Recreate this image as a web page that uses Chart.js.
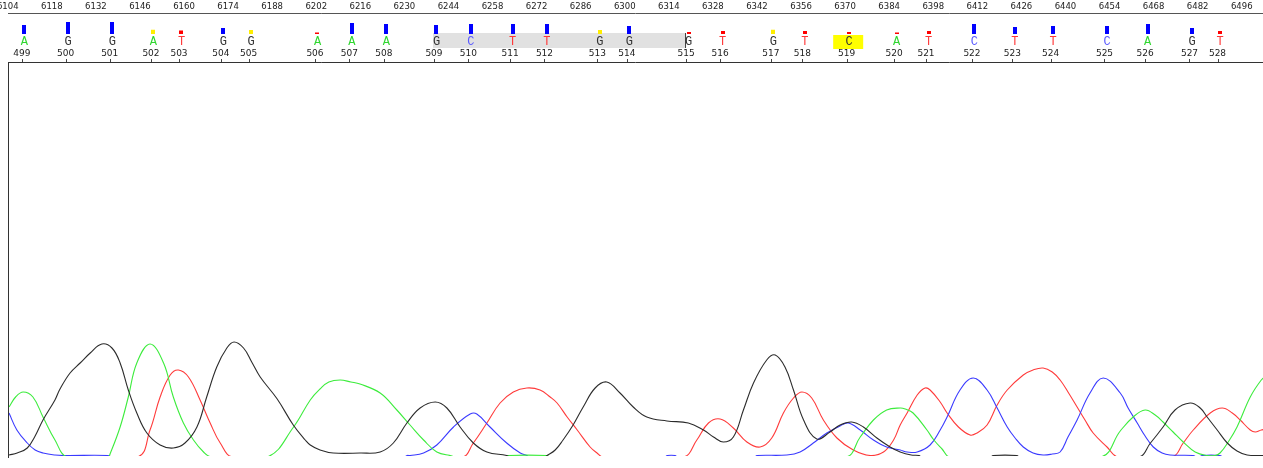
<!DOCTYPE html>
<html>
<head>
<meta charset="utf-8">
<script src="https://cdn.jsdelivr.net/npm/chart.js@4.4.1/dist/chart.umd.min.js"></script>
<style>
  body { margin: 0; background: #fff; }
  #wrap { width: 1263px; height: 468px; }
</style>
</head>
<body>
<div id="wrap"><canvas id="trace"></canvas></div>
<script>
'use strict';

// scan ruler on top
var scanTicks = [6104, 6118, 6132, 6146, 6160, 6174, 6188, 6202, 6216, 6230, 6244, 6258, 6272, 6286,
    6300, 6314, 6328, 6342, 6356, 6370, 6384, 6398, 6412, 6426, 6440, 6454, 6468, 6482, 6496];

// base calls
var baseNumbers = [499, 500, 501, 502, 503, 504, 505, 506, 507, 508, 509, 510, 511, 512, 513,
    514, 515, 516, 517, 518, 519, 520, 521, 522, 523, 524, 525, 526, 527, 528];
var baseCalls = ['A', 'G', 'G', 'A', 'T', 'G', 'G', 'A', 'A', 'A', 'G', 'C', 'T', 'T', 'G',
    'G', 'G', 'T', 'G', 'T', 'C', 'A', 'T', 'C', 'T', 'T', 'C', 'A', 'G', 'T'];
var basePositions = [6108.5, 6122.4, 6136.4, 6149.5, 6158.4, 6171.7, 6180.5, 6201.6, 6212.5, 6223.5,
    6239.4, 6250.3, 6263.6, 6274.5, 6291.3, 6300.7, 6319.5, 6330.3, 6346.4, 6356.4,
    6370.5, 6385.6, 6395.7, 6410.3, 6423.1, 6435.3, 6452.4, 6465.3, 6479.4, 6488.3];
var qualities = [36, 48, 48, 17, 14, 24, 16, 6, 44, 40, 36, 40, 40, 40, 16,
    32, 8, 12, 17, 12, 8, 6, 12, 40, 28, 32, 32, 40, 24, 12];
var selectedFrom = 509, selectedTo = 515, currentBase = 519;

// trace intensities [scan, signal]
var traceA = [[6104.4,50],[6106.5,60],[6108.9,65],[6112,60],[6115.2,40],[6119,17],[6122.9,0],[6135.9,0],
    [6136.5,3],[6139.7,30],[6142.3,60],[6145,94],[6149.2,113],[6153.5,94],[6156.6,60],[6159.8,34],[6163,17],
    [6166.2,5],[6168.8,0],[6186.4,0],[6194.8,30],[6200.1,57],[6203.2,68],[6206,75],[6209.6,77],[6213,75],
    [6215.9,73],[6222.3,64],[6227.6,47],[6231.8,32],[6236.1,17],[6240.3,5],[6245.1,1],[6246,0],[6262,0],
    [6263,1.5],[6275.3,1.5],[6276.2,0],[6370,0],[6374.8,20],[6379,37],[6383.2,47],[6387.5,49],[6389.1,48],
    [6391.6,44],[6396,27],[6398.2,17],[6400.8,8],[6403.3,0],[6451,0],[6457.4,26],[6461.5,40],[6465.3,47],
    [6468.5,42],[6471,35],[6474.2,25],[6477.4,15],[6481.2,5],[6485,1.5],[6487.5,1.5],[6489.1,4],[6491.7,15],
    [6494.5,30],[6498.7,60],[6502.2,77],[6504,82]];
var traceC = [[6104.4,44],[6106.9,27],[6110.2,14],[6112.7,7],[6115.2,4],[6119,2],[6122,1.5],[6135.9,1.5],
    [6136.8,0],[6230,0],[6230.9,1.5],[6231.8,1.5],[6236.1,4],[6240.3,12],[6245.6,30],[6250.9,43],[6253,43],
    [6257.2,30],[6262.5,14],[6266.8,4],[6268.9,1.5],[6269.6,0],[6312.7,0],[6313.5,1.5],[6316,1.5],
    [6316.8,0],[6341.2,0],[6342,1.5],[6351.5,2],[6355.7,5],[6359.9,14],[6364.2,24],[6368.4,31],[6371,34],
    [6374.8,27],[6379,17],[6383.2,10],[6387.5,7],[6389.7,5],[6392.9,5],[6397,12],
    [6400.2,27],[6402.4,40],[6406.5,67],[6410.7,79],[6415.1,67],[6418.3,49],[6421.5,30],[6424,19],[6426.6,10],
    [6429.7,4],[6432.9,2],[6435.8,3],[6438.3,5],[6440.8,20],[6443.7,37],[6447.8,64],[6452,79],[6457.4,64],
    [6459.9,49],[6462.8,34],[6465.3,21],[6467.9,10],[6470.7,4],[6473.2,2],[6480.6,1.5],[6481.5,0],[6482.6,0],
    [6483.4,1.5],[6489.1,1.5],[6490,0],[6504,0]];
var traceG = [[6104.4,2],[6107,4],[6110.2,9],[6112.7,21],[6115.2,37],[6119,57],[6120.6,68],[6123.8,84],
    [6127,94],[6130.2,104],[6133.9,113],[6137.1,109],[6139.7,94],[6142.3,67],[6145,44],[6148.2,24],
    [6152.4,12],[6156.6,9],[6160.3,14],[6164.1,30],[6167.2,60],[6170.4,90],[6173.6,109],[6175.9,115],
    [6178.9,109],[6181.5,95],[6184.2,80],[6189.6,58],[6194.7,32],[6198.5,17],[6200.1,12],[6203.2,7],
    [6207.4,4],[6215.9,4],[6222.3,5],[6226.5,14],[6230.8,34],[6235,49],[6239.8,55],[6243.5,49],[6247.7,30],
    [6251.9,14],[6256.2,5],[6262.5,1.5],[6263.5,0],[6274.5,0],[6275.3,1.5],[6277.9,7],[6280.4,17],
    [6283.6,32],[6286.8,50],[6290.6,69],[6294.3,75],[6298.5,64],[6302.7,50],[6307,40],[6313.4,36],
    [6320.2,34],[6325,27],[6328.2,20],[6331.3,15],[6334.5,20],[6337.7,47],[6340.9,74],[6345.1,97],
    [6347.8,102],[6350.9,90],[6353.6,67],[6356.8,37],[6361,18],[6365.2,25],[6368.4,32],[6372.1,35],
    [6375.8,30],[6380.1,19],[6384.3,10],[6387.5,5],[6391,2],[6393.5,1.5],[6394.3,0],
    [6416.2,0],[6417,1.5],[6424.6,1.5],[6425.4,0],[6463.1,0],[6467,14],[6471,30],[6474.8,47],[6479.6,54],
    [6482.8,49],[6485,40],[6488.2,27],[6491.4,14],[6494.5,6],[6497.7,2],[6503,1.5]];
var traceT = [[6104.4,0],[6145,0],[6149.2,27],[6152.4,60],[6155.6,82],[6158.2,87],[6161.4,80],[6165.1,57],
    [6168.3,34],[6171.5,14],[6175.7,0],[6248.2,0],[6251.9,14],[6256.2,34],[6260.4,54],[6264.6,65],
    [6268.9,69],[6273.1,67],[6276.3,60],[6278.5,54],[6281.7,40],[6284.9,27],[6289,10],[6291.2,4],[6293.1,0],
    [6318.6,0],[6322.9,17],[6326.6,34],[6330.3,38],[6334.5,29],[6338.8,15],[6343,10],[6346.7,19],
    [6350.4,44],[6353.6,59],[6356.3,65],[6359.4,59],[6363.1,37],[6367.4,19],[6372.6,7],[6378,1.5],
    [6382.2,5],[6385.4,17],[6387.5,32],[6389.7,44],[6392.9,62],[6395.4,69],[6397,67],
    [6400.2,55],[6402.4,44],[6406,30],[6409.7,22],[6411.9,24],[6415.1,32],[6418.3,52],[6421.5,67],
    [6426.6,82],[6429.7,87],[6432.9,89],[6435.8,85],[6438.3,77],[6440.8,65],[6443.7,50],[6446.2,37],
    [6448.8,24],[6453.2,10],[6456.7,0],[6473.9,0],[6477.4,14],[6480.6,27],[6486,44],[6489.8,49],[6493,44],
    [6495.5,37],[6498.7,27],[6500.3,25],[6502.2,27],[6504,28]];

var letterColors = { A: '#2fd62f', C: '#5a5aff', G: '#333333', T: '#ff3535' };

function qualityColor(q) {
    if (q >= 20) return '#0000ff';
    if (q >= 15) return '#ffee00';
    return '#ff0000';
}

function toPoints(arr) {
    return arr.map(function (p) { return { x: p[0], y: p[1] }; });
}

// header: scan ruler, quality bars, base letters, base numbers
var headerPlugin = {
    id: 'header',
    afterDraw: function (chart) {
        var ctx = chart.ctx, xs = chart.scales.x, area = chart.chartArea;
        var W = chart.width;
        ctx.save();

        ctx.fillStyle = '#222';
        ctx.font = '8.5px "DejaVu Sans"';
        ctx.textAlign = 'center';
        ctx.textBaseline = 'middle';
        scanTicks.forEach(function (s) {
            ctx.fillText(String(s), xs.getPixelForValue(s), 7);
        });
        ctx.strokeStyle = '#555';
        ctx.lineWidth = 1;
        ctx.beginPath();
        ctx.moveTo(8, 13.5); ctx.lineTo(W, 13.5);
        ctx.stroke();

        // selected range
        var iFrom = baseNumbers.indexOf(selectedFrom), iTo = baseNumbers.indexOf(selectedTo);
        var sx0 = xs.getPixelForValue(basePositions[iFrom]) - 1;
        var sx1 = xs.getPixelForValue(basePositions[iTo]);
        ctx.fillStyle = '#e1e1e1';
        ctx.fillRect(sx0, 33, sx1 - sx0, 15);
        ctx.strokeStyle = '#444';
        ctx.beginPath();
        ctx.moveTo(Math.round(sx1) - 0.5, 33); ctx.lineTo(Math.round(sx1) - 0.5, 48);
        ctx.stroke();

        // current base
        var iCur = baseNumbers.indexOf(currentBase);
        var cx = xs.getPixelForValue(basePositions[iCur]) + 1.5;
        ctx.fillStyle = '#ffff00';
        ctx.fillRect(cx - 15, 35, 30, 14);

        baseNumbers.forEach(function (n, i) {
            var px = xs.getPixelForValue(basePositions[i]);
            var q = qualities[i];
            var h = Math.max(1.5, q / 4);
            ctx.fillStyle = qualityColor(q);
            ctx.fillRect(Math.round(px + 0.5), 34 - h, 4, h);

            ctx.font = '12px "Liberation Mono"';
            ctx.fillStyle = (n === currentBase) ? '#333' : letterColors[baseCalls[i]];
            ctx.fillText(baseCalls[i], px + 2.5, 41.5);

            ctx.font = '9px "DejaVu Sans"';
            ctx.fillStyle = '#222';
            ctx.fillText(String(n), px, 54);

            ctx.strokeStyle = '#444';
            ctx.beginPath();
            ctx.moveTo(Math.round(px) + 0.5, 59); ctx.lineTo(Math.round(px) + 0.5, 62);
            ctx.stroke();
        });

        ctx.strokeStyle = '#333';
        ctx.beginPath();
        ctx.moveTo(8, 62.5); ctx.lineTo(W, 62.5);
        ctx.moveTo(8.5, 62); ctx.lineTo(8.5, area.bottom + 1);
        ctx.stroke();
        ctx.restore();
    }
};

function traceSet(label, arr, color) {
    return {
        label: label,
        data: toPoints(arr),
        borderColor: color,
        borderWidth: 1.1,
        pointRadius: 0,
        fill: false,
        tension: 0.4,
        clip: { left: 0, top: 0, right: 0, bottom: -1 }
    };
}

var ctx = document.getElementById('trace').getContext('2d');
var chart = new Chart(ctx, {
    type: 'line',
    data: {
        datasets: [
            traceSet('G', traceG, '#2b2b2b'),
            traceSet('A', traceA, '#3cec3c'),
            traceSet('C', traceC, '#3a3aff'),
            traceSet('T', traceT, '#ff3a3a')
        ]
    },
    options: {
        responsive: true,
        maintainAspectRatio: false,
        animation: false,
        layout: { padding: { top: 63, left: 9, right: 0, bottom: 11 } },
        plugins: { legend: { display: false }, tooltip: { enabled: false } },
        scales: {
            x: { type: 'linear', min: 6104.4, max: 6502.75, display: false },
            y: { type: 'linear', min: 0, max: 394, display: false }
        }
    },
    plugins: [headerPlugin]
});
</script>
</body>
</html>
